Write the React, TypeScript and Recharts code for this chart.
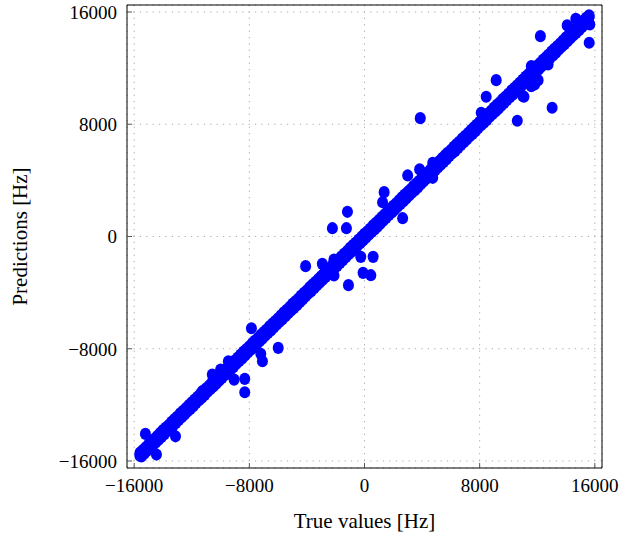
import React from 'react';
import { ScatterChart, Scatter, XAxis, YAxis, CartesianGrid, ReferenceArea } from 'recharts';

const tickValues = [-16000, -8000, 0, 8000, 16000];
const axisMin = -16500;
const axisMax = 16500;
const xTitle = 'True values [Hz]';
const yTitle = 'Predictions [Hz]';

// dense band, row A (upper edge)
const bandATrue = [
  -15600, -15200, -14800, -14400, -14000, -13600, -13200, -12800, -12400, -12000,
  -11600, -11200, -10800, -10400, -10000, -9600, -9200, -8800, -8400, -8000,
  -7600, -7200, -6800, -6400, -6000, -5600, -5200, -4800, -4400, -4000,
  -3600, -3200, -2800, -2400, -2000, -1600, -1200, -800, -400, 0,
  400, 800, 1200, 1600, 2000, 2400, 2800, 3200, 3600, 4000,
  4400, 4800, 5200, 5600, 6000, 6400, 6800, 7200, 7600, 8000,
  8400, 8800, 9200, 9600, 10000, 10400, 10800, 11200, 11600, 12000,
  12400, 12800, 13200, 13600, 14000, 14400, 14800, 15200, 15600,
];
const bandAPred = [
  -15410, -15030, -14615, -14225, -13805, -13435, -13020, -12610, -12230, -11815,
  -11425, -11005, -10635, -10220, -9810, -9430, -9015, -8625, -8205, -7835,
  -7420, -7010, -6630, -6215, -5825, -5405, -5035, -4620, -4210, -3830,
  -3415, -3025, -2605, -2235, -1820, -1410, -1030, -615, -225, 195,
  565, 980, 1390, 1770, 2185, 2575, 2995, 3365, 3780, 4190,
  4570, 4985, 5375, 5795, 6165, 6580, 6990, 7370, 7785, 8175,
  8595, 8965, 9380, 9790, 10170, 10585, 10975, 11395, 11765, 12180,
  12590, 12970, 13385, 13775, 14195, 14565, 14980, 15390, 15770,
];

// dense band, row B (upper edge)
const bandBTrue = [
  -15400, -15000, -14600, -14200, -13800, -13400, -13000, -12600, -12200, -11800,
  -11400, -11000, -10600, -10200, -9800, -9400, -9000, -8600, -8200, -7800,
  -7400, -7000, -6600, -6200, -5800, -5400, -5000, -4600, -4200, -3800,
  -3400, -3000, -2600, -2200, -1800, -1400, -1000, -600, -200, 200,
  600, 1000, 1400, 1800, 2200, 2600, 3000, 3400, 3800, 4200,
  4600, 5000, 5400, 5800, 6200, 6600, 7000, 7400, 7800, 8200,
  8600, 9000, 9400, 9800, 10200, 10600, 11000, 11400, 11800, 12200,
  12600, 13000, 13400, 13800, 14200, 14600, 15000, 15400,
];
const bandBPred = [
  -15225, -14810, -14430, -14015, -13620, -13205, -12835, -12420, -12010, -11630,
  -11215, -10825, -10405, -10035, -9620, -9210, -8830, -8415, -8025, -7605,
  -7235, -6820, -6410, -6030, -5615, -5225, -4805, -4435, -4020, -3610,
  -3230, -2815, -2425, -2005, -1635, -1220, -810, -430, -15, 375,
  795, 1165, 1580, 1990, 2370, 2785, 3175, 3595, 3965, 4380,
  4790, 5170, 5585, 5975, 6395, 6765, 7180, 7590, 7970, 8385,
  8775, 9195, 9565, 9980, 10390, 10770, 11185, 11575, 11995, 12365,
  12780, 13190, 13570, 13985, 14375, 14795, 15165, 15580,
];

// dense band, row C (lower edge)
const bandCTrue = [
  -15500, -15100, -14700, -14300, -13900, -13500, -13100, -12700, -12300, -11900,
  -11500, -11100, -10700, -10300, -9900, -9500, -9100, -8700, -8300, -7900,
  -7500, -7100, -6700, -6300, -5900, -5500, -5100, -4700, -4300, -3900,
  -3500, -3100, -2700, -2300, -1900, -1500, -1100, -700, -300, 100,
  500, 900, 1300, 1700, 2100, 2500, 2900, 3300, 3700, 4100,
  4500, 4900, 5300, 5700, 6100, 6500, 6900, 7300, 7700, 8100,
  8500, 8900, 9300, 9700, 10100, 10500, 10900, 11300, 11700, 12100,
  12500, 12900, 13300, 13700, 14100, 14500, 14900, 15300,
];
const bandCPred = [
  -15680, -15265, -14890, -14475, -14085, -13670, -13295, -12880, -12465, -12090,
  -11675, -11285, -10870, -10495, -10080, -9665, -9290, -8875, -8485, -8070,
  -7695, -7280, -6865, -6490, -6075, -5685, -5270, -4895, -4480, -4065,
  -3690, -3275, -2885, -2470, -2095, -1680, -1265, -890, -475, -85,
  330, 705, 1120, 1535, 1910, 2325, 2715, 3130, 3505, 3920,
  4335, 4710, 5125, 5515, 5930, 6305, 6720, 7135, 7510, 7925,
  8315, 8730, 9105, 9520, 9935, 10310, 10725, 11115, 11530, 11905,
  12320, 12735, 13110, 13525, 13915, 14330, 14705, 15120,
];

// dense band, row D (lower edge)
const bandDTrue = [
  -15300, -14900, -14500, -14100, -13700, -13300, -12900, -12500, -12100, -11700,
  -11300, -10900, -10500, -10100, -9700, -9300, -8900, -8500, -8100, -7700,
  -7300, -6900, -6500, -6100, -5700, -5300, -4900, -4500, -4100, -3700,
  -3300, -2900, -2500, -2100, -1700, -1300, -900, -500, -100, 300,
  700, 1100, 1500, 1900, 2300, 2700, 3100, 3500, 3900, 4300,
  4700, 5100, 5500, 5900, 6300, 6700, 7100, 7500, 7900, 8300,
  8700, 9100, 9500, 9900, 10300, 10700, 11100, 11500, 11900, 12300,
  12700, 13100, 13500, 13900, 14300, 14700, 15100, 15500,
];
const bandDPred = [
  -15475, -15090, -14670, -14285, -13865, -13495, -13080, -12675, -12290, -11870,
  -11485, -11065, -10695, -10280, -9875, -9490, -9070, -8685, -8265, -7895,
  -7480, -7075, -6690, -6270, -5885, -5465, -5095, -4680, -4275, -3890,
  -3470, -3085, -2665, -2295, -1880, -1475, -1090, -670, -285, 135,
  505, 920, 1325, 1710, 2130, 2515, 2935, 3305, 3720, 4125,
  4510, 4930, 5315, 5735, 6105, 6520, 6925, 7310, 7730, 8115,
  8535, 8905, 9320, 9725, 10110, 10530, 10915, 11335, 11705, 12120,
  12525, 12910, 13330, 13715, 14135, 14505, 14920, 15325,
];

// scattered points off the band
const outlierTrue = [
  -15220, -14455, -13130, -15610, -7855, -5995, -7090, -7205, -8320, -8320,
  -9060, -9460, -9995, -10575, -11270,
  -1185, -2230, -1255, 3000, 3830, 1365, 1255, 2650, -4090, -2930,
  -2120, -260, 600, -100, 440, -1115, -2120, 4740,
  3875, 9150, 8455, 8105, 10615, 13035, 11080, 4740, 12060, 11590,
  12220, 15610, 14080, 14680, 15610, 15655, 11590, 12755, 11820, 11010,
];
const outlierPred = [
  -14070, -15540, -14240, -15615, -6540, -7940, -8890, -8365, -10150, -11100,
  -10200, -8890, -9480, -9840, -11030,
  1760, 590, 590, 4350, 4780, 3160, 2445, 1305, -2115, -1950,
  -1640, -1450, -1450, -2590, -2760, -3470, -2780, 4185,
  8435, 11145, 9960, 8820, 8250, 9175, 9960, 5255, 11145, 10715,
  14280, 13810, 15045, 15520, 15665, 15115, 12140, 12265, 10840, 10000,
];

const toPoints = (xs: number[], ys: number[]) => xs.map((x, i) => ({ x, y: ys[i] }));
const points = [
  ...toPoints(bandATrue, bandAPred),
  ...toPoints(bandBTrue, bandBPred),
  ...toPoints(bandCTrue, bandCPred),
  ...toPoints(bandDTrue, bandDPred),
  ...toPoints(outlierTrue, outlierPred),
];

const FONT = '"Liberation Serif", "DejaVu Serif", serif';
const fmt = (v: number) => (v < 0 ? '\u2212' + Math.abs(v) : String(v));

const XTick = (props: any) => {
  const { x, y, payload } = props;
  const axisY = y - 10;
  return (
    <g>
      <line x1={x} x2={x} y1={axisY} y2={axisY - 5} stroke="#555" strokeWidth={1} />
      <text x={x} y={y} dy="0.74em" textAnchor="middle" fontFamily={FONT} fontSize={19} fill="#000">
        {fmt(payload.value)}
      </text>
    </g>
  );
};

const YTick = (props: any) => {
  const { x, y, payload } = props;
  const axisX = x + 10;
  return (
    <g>
      <line x1={axisX} x2={axisX + 5} y1={y} y2={y} stroke="#555" strokeWidth={1} />
      <text x={x} y={y} dy="0.36em" textAnchor="end" fontFamily={FONT} fontSize={19} fill="#000">
        {fmt(payload.value)}
      </text>
    </g>
  );
};

const XTitle = (props: any) => {
  const vb = props.viewBox;
  return (
    <text x={vb.x + vb.width / 2} y={vb.y + vb.height - 13} textAnchor="middle" fontFamily={FONT} fontSize={21} fill="#000">
      {xTitle}
    </text>
  );
};

const YTitle = (props: any) => {
  const vb = props.viewBox;
  const cx = vb.x + 27;
  const cy = vb.y + vb.height / 2;
  return (
    <text x={cx} y={cy} transform={`rotate(-90, ${cx}, ${cy})`} textAnchor="middle" fontFamily={FONT} fontSize={21} fill="#000">
      {yTitle}
    </text>
  );
};

const Dot = (props: any) => {
  const { cx, cy } = props;
  if (cx == null || cy == null) return <g />;
  return <ellipse cx={cx} cy={cy} rx={5.5} ry={6.1} fill="#0000ff" />;
};

export default function App() {
  return (
    <div style={{ position: 'absolute', left: 0, top: 0, width: 635, height: 541, background: '#fff' }}>
      <ScatterChart width={635} height={541} margin={{ top: 5, right: 33, bottom: 0, left: 0 }}>
        <CartesianGrid stroke="#a8a8a8" strokeDasharray="1.2 5.2" />
        <XAxis
          dataKey="x"
          type="number"
          domain={[axisMin, axisMax]}
          ticks={tickValues}
          interval={0}
          height={73}
          axisLine={false}
          tickLine={false}
          tickSize={0}
          tickMargin={10}
          tick={<XTick />}
          label={{ content: XTitle }}
          allowDataOverflow
        />
        <XAxis
          xAxisId="top"
          orientation="top"
          type="number"
          domain={[axisMin, axisMax]}
          ticks={tickValues}
          interval={0}
          height={1}
          mirror
          axisLine={false}
          tickLine={{ stroke: '#555' }}
          tickSize={5}
          tick={false}
          allowDataOverflow
        />
        <YAxis
          dataKey="y"
          type="number"
          domain={[axisMin, axisMax]}
          ticks={tickValues}
          interval={0}
          width={127}
          axisLine={false}
          tickLine={false}
          tickSize={0}
          tickMargin={10}
          tick={<YTick />}
          label={{ content: YTitle }}
          allowDataOverflow
        />
        <YAxis
          yAxisId="right"
          orientation="right"
          type="number"
          domain={[axisMin, axisMax]}
          ticks={tickValues}
          interval={0}
          width={1}
          mirror
          axisLine={false}
          tickLine={{ stroke: '#555' }}
          tickSize={5}
          tick={false}
          allowDataOverflow
        />
        <Scatter data={points} fill="#0000ff" shape={<Dot />} isAnimationActive={false} />
        <ReferenceArea
          x1={axisMin}
          x2={axisMax}
          y1={axisMin}
          y2={axisMax}
          fill="none"
          fillOpacity={0}
          stroke="#000"
          strokeWidth={1}
          ifOverflow="visible"
        />
      </ScatterChart>
    </div>
  );
}
